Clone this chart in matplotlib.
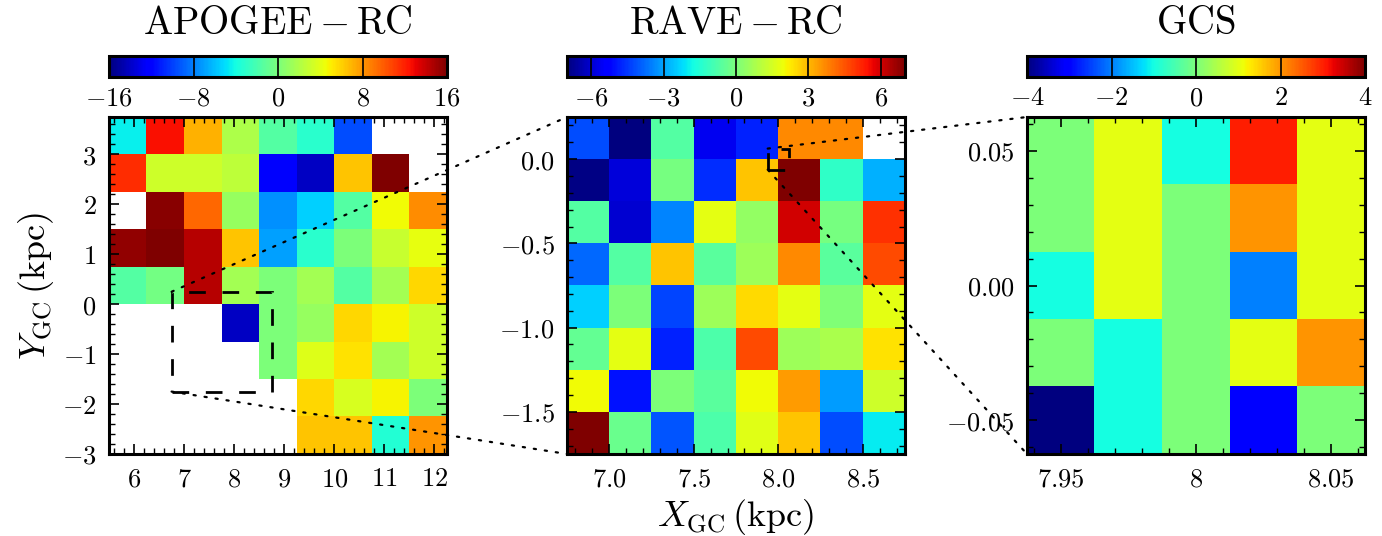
import numpy as np
import matplotlib
matplotlib.use("Agg")
import matplotlib.pyplot as plt
from matplotlib.patches import Rectangle, ConnectionPatch
from matplotlib.ticker import MultipleLocator, FuncFormatter

plt.rcParams['mathtext.fontset'] = 'cm'
plt.rcParams['font.family'] = 'serif'

nan = np.nan

# APOGEE - RC, rows from top (y = 3.75) to bottom (y = -3), 0.75 kpc bins
apogee = [
    [-4.5, 12.5, 7.0, 1.9, -1.6, -3.2, -9.6, nan, nan],
    [11.5, 3.2, 3.2, 2.6, -12.5, -14.1, 6.4, 16.0, nan],
    [nan, 15.7, 9.6, 1.0, -7.4, -5.4, -1.6, 4.5, 8.3],
    [15.4, 16.0, 14.4, 6.4, -7.0, -3.2, 0.0, 2.9, 4.2],
    [-1.6, -0.3, 14.4, 1.6, 0.0, 1.6, -1.6, 1.6, 5.8],
    [nan, nan, nan, -14.1, 0.0, 1.0, 5.8, 4.8, 3.2],
    [nan, nan, nan, nan, 0.0, 3.8, 5.4, 1.6, 3.2],
    [nan, nan, nan, nan, nan, 5.8, 3.5, 4.8, 0.0],
    [nan, nan, nan, nan, nan, 6.4, 6.4, -3.5, 8.0],
]
apogee_extent = [5.5, 12.25, -3.0, 3.75]

# RAVE - RC, rows from y = 0.25 down to y = -1.75, 0.25 kpc bins
rave = [
    [-4.2, -7.0, -0.7, -5.6, -4.8, 3.7, 3.7, nan],
    [-6.9, -5.9, -0.1, -4.6, 2.8, 7.0, -1.3, -2.8],
    [-0.7, -6.0, -3.4, 1.8, 0.4, 6.0, -0.1, 5.0],
    [-3.8, -0.7, 2.8, -0.6, 0.6, 3.7, -0.6, 4.6],
    [-2.4, 0.0, -4.3, 0.6, 2.5, 1.8, 0.1, 1.8],
    [-0.4, 1.8, -4.8, -0.8, 4.6, 0.6, 0.8, 2.4],
    [2.0, -5.0, 0.0, -0.6, 2.0, 3.4, -3.1, 1.4],
    [7.0, -0.3, -4.1, -0.8, 1.7, 2.8, -4.2, -2.0],
]
rave_extent = [6.75, 8.75, -1.75, 0.25]

# GCS, rows from y = 0.0625 down to y = -0.0625
gcs = [
    [0, 1, -1, 3, 1],
    [0, 1, 0, 2, 1],
    [-1, 1, 0, -2, 1],
    [0, -1, 0, 1, 2],
    [-4, -1, 0, -3, 0],
]
gcs_extent = [7.9375, 8.0625, -0.0625, 0.0625]

titles = [r'$\mathrm{APOGEE} - \mathrm{RC}$', r'$\mathrm{RAVE} - \mathrm{RC}$', r'$\mathrm{GCS}$']
vlims = [16, 7, 4]
cticks = [[-16, -8, 0, 8, 16], [-6, -3, 0, 3, 6], [-4, -2, 0, 2, 4]]
majors = [(1, 1), (0.5, 0.5), (0.05, 0.05)]
minors = [(0.2, 0.2), (0.1, 0.1), (0.01, 0.01)]
xfmts = ['%d', '%.1f', '%g']
yfmts = ['%d', '%.1f', '%.2f']

W, H = 1382, 536
fig = plt.figure(figsize=(W / 100, H / 100), dpi=100)
lefts = [109, 567, 1027]
fs_tick = 19

axes = []
for i, (data, ext) in enumerate(zip([apogee, rave, gcs], [apogee_extent, rave_extent, gcs_extent])):
    ax = fig.add_axes([lefts[i] / W, (H - 454) / H, 338 / W, 337 / H])
    cax = fig.add_axes([lefts[i] / W, (H - 77) / H, 338 / W, 21 / H])
    im = ax.imshow(np.array(data, dtype=float), extent=ext, origin='upper', cmap='jet',
                   vmin=-vlims[i], vmax=vlims[i], interpolation='nearest', aspect='auto')
    ax.set_xlim(ext[0], ext[1])
    ax.set_ylim(ext[2], ext[3])
    ax.xaxis.set_major_locator(MultipleLocator(majors[i][0]))
    ax.yaxis.set_major_locator(MultipleLocator(majors[i][1]))
    ax.xaxis.set_minor_locator(MultipleLocator(minors[i][0]))
    ax.yaxis.set_minor_locator(MultipleLocator(minors[i][1]))
    fx, fy = xfmts[i], yfmts[i]
    ax.xaxis.set_major_formatter(FuncFormatter(lambda v, p, f=fx: r'$%s$' % (f % (round(v, 4) + 0.0))))
    ax.yaxis.set_major_formatter(FuncFormatter(lambda v, p, f=fy: r'$%s$' % (f % (round(v, 4) + 0.0))))
    ax.tick_params(which='both', direction='in', top=True, right=True, labelsize=fs_tick, pad=9)
    ax.tick_params(which='major', length=7, width=1.2)
    ax.tick_params(which='minor', length=4, width=1.0)
    for s in ax.spines.values():
        s.set_linewidth(2.2)

    cb = fig.colorbar(im, cax=cax, orientation='horizontal')
    cb.set_ticks(cticks[i])
    cb.set_ticklabels([r'$%d$' % t for t in cticks[i]])
    cb.ax.tick_params(direction='in', length=15.5, width=1.2, labelsize=fs_tick, pad=6)
    cb.ax.tick_params(which='minor', length=0)
    cb.outline.set_linewidth(2.2)
    fig.text((lefts[i] + 169) / W, 1 - 24 / H, titles[i], ha='center', va='center', fontsize=28)
    axes.append(ax)

ax1, ax2, ax3 = axes
ax1.set_ylabel(r'$Y_{\rm GC}\,({\rm kpc})$', fontsize=26, labelpad=4)
ax2.set_xlabel(r'$X_{\rm GC}\,({\rm kpc})$', fontsize=26, labelpad=4)

# zoom boxes and connecting lines
for src, dst, ext in [(ax1, ax2, rave_extent), (ax2, ax3, gcs_extent)]:
    rect = Rectangle((ext[0], ext[2]), ext[1] - ext[0], ext[3] - ext[2], fill=False,
                     ec='k', lw=2, ls=(0, (6, 6)), zorder=5)
    src.add_patch(rect)
    for yd, ya in [(ext[3], 1), (ext[2], 0)]:
        con = ConnectionPatch(xyA=(ext[0], yd), coordsA=src.transData,
                              xyB=(0, ya), coordsB=dst.transAxes,
                              color='k', lw=1.6, ls=(0, (1, 4)), zorder=10)
        con.set_capstyle('round')
        fig.add_artist(con)

fig.savefig('out.png', dpi=100)
